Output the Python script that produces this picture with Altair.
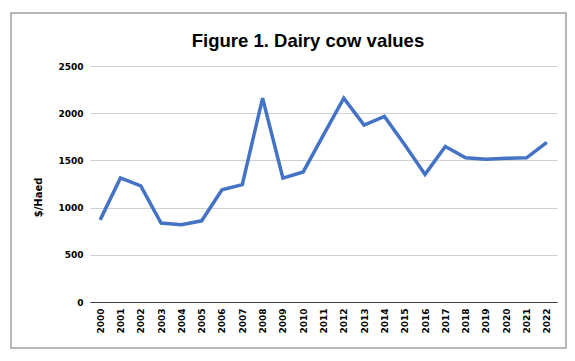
import altair as alt
import pandas as pd

years = [str(y) for y in range(2000, 2023)]
values = [870, 1315, 1230, 837, 818, 860, 1188, 1243, 2160, 1313, 1378,
          1770, 2160, 1875, 1965, 1665, 1352, 1648, 1528, 1512, 1522, 1527, 1690]
title_text = ["Figure 1. Dairy cow values"]

df = pd.DataFrame({"year": years, "value": values})

W, H = 467, 236
PL, PT = 82, 58

line = alt.Chart(df).mark_line(color="#4472C4", strokeWidth=3.5, strokeJoin="miter").encode(
    x=alt.X("year:O", sort=years, title=None,
            scale=alt.Scale(paddingOuter=0.5, paddingInner=0),
            axis=alt.Axis(labelAngle=-90, labelFont="DejaVu Sans", labelFontWeight="bold",
                          labelFontSize=9, labelColor="#000000", ticks=False,
                          domainColor="#404040", domainWidth=1, labelPadding=6,
                          labelAlign="right", labelBaseline="middle")),
    y=alt.Y("value:Q", title="$/Haed",
            scale=alt.Scale(domain=[0, 2500], nice=False),
            axis=alt.Axis(values=[0, 500, 1000, 1500, 2000, 2500], format="d", grid=True,
                          gridColor="#d0d0d0", gridWidth=1, domain=False, ticks=False,
                          labelFont="DejaVu Sans", labelFontWeight="bold", labelFontSize=9,
                          labelColor="#000000", labelPadding=7,
                          titleFont="DejaVu Sans", titleFontWeight="bold", titleFontSize=10,
                          titleColor="#000000", titleAngle=270, titleX=-52, titleY=131,
                          titleAlign="center", titleBaseline="middle")),
)

border = alt.Chart(pd.DataFrame({"a": [0]})).mark_rect(
    fill="white", fillOpacity=0, stroke="#a0a0a0", strokeWidth=1.5
).encode(
    x=alt.value(-79), x2=alt.value(476), y=alt.value(-53), y2=alt.value(282)
)

title = alt.Chart(pd.DataFrame({"t": title_text})).mark_text(
    font="Liberation Sans", fontSize=18.5, fontWeight="bold", color="#000000",
    align="center", baseline="alphabetic"
).encode(text="t:N", x=alt.value(218), y=alt.value(-19))

chart = (border + line + title).properties(
    width=W, height=H,
    autosize=alt.AutoSizeParams(type="none"),
    padding={"left": PL, "top": PT, "right": 10, "bottom": 50},
).configure(background="white").configure_view(stroke=None)

chart.save("out.html", embed_options={"renderer": "svg", "actions": False})
